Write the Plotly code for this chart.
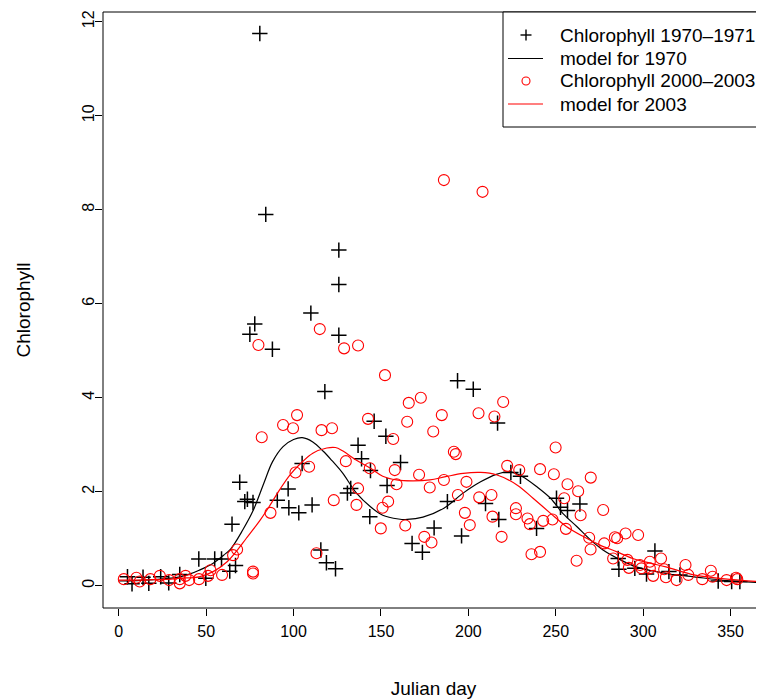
import plotly.graph_objects as go

# Observed chlorophyll, 1970-1971 (black crosses)
day_1970 = [5.0, 7.6, 13.9, 17.2, 24, 28.6, 34.9, 45.8, 49.8, 54.9, 58.8, 63.5, 64.8, 66.8, 69.2,
            72.1, 73.6, 75, 76.8, 77.8, 80.7, 84.1, 87.9, 90.7, 96.9, 97.3, 103, 104.9, 109.9,
            110.6, 115.6, 117.9, 118.8, 124, 125.9, 125.9, 125.9, 130.8, 132.7, 136.9, 138.9,
            143.6, 144, 146.1, 152.8, 153.5, 161.2, 167.8, 173.7, 180.4, 188, 193.8, 196.1,
            202.8, 209.8, 216.7, 217.4, 224.3, 229.8, 239, 250.4, 252.7, 256.7, 263.8, 285.7,
            286.1, 295.2, 301.9, 306.7, 314.7, 321, 342.9, 350.6, 355.3]
chl_1970 = [0.19, 0.04, 0.18, 0.05, 0.19, 0.06, 0.24, 0.57, 0.16, 0.57, 0.57, 0.31, 1.31, 0.43, 2.2,
            1.79, 1.84, 5.35, 1.77, 5.57, 11.75, 7.9, 5.03, 1.82, 2.06, 1.66, 1.55, 2.60, 5.80,
            1.72, 0.76, 4.13, 0.49, 0.36, 7.14, 6.41, 5.33, 1.97, 2.07, 2.99, 2.70,
            1.47, 2.45, 3.50, 3.18, 2.13, 2.62, 0.90, 0.71, 1.23, 1.79, 4.36, 1.06,
            4.18, 1.75, 3.46, 1.41, 2.41, 2.33, 1.22, 1.86, 1.67, 1.60, 1.74, 0.58,
            0.35, 0.37, 0.25, 0.74, 0.30, 0.23, 0.10, 0.09, 0.09]

# Observed chlorophyll, 2000-2003 (red circles)
day_2000 = [2.9, 10.1, 12, 18.1, 23.5, 28.8, 34.9, 34.9, 38.2, 40.3, 45.9, 51.1, 52.5, 59.1, 65.4,
            67.7, 76.8, 76.8, 79.9, 81.8, 86.8, 94, 99.7, 101.1, 102, 108.9, 113.1, 115, 116, 122,
            123, 128.9, 129.9, 136, 136.9, 136.9, 142.6, 143.6, 149.9, 150.9, 152.3, 154.1, 157,
            157.9, 158.9, 163.9, 165, 165.9, 171.8, 172.8, 174.8, 177.9, 178.9, 179.9, 184.8,
            186, 186, 191.7, 192.8, 194, 198, 198.9, 200.8, 205.8, 206.2, 208.1, 213.2, 213.8,
            214.9, 219, 219.9, 222.2, 227.2, 227.2, 229.1, 233.8, 235.2, 236.1, 241, 241, 242.8,
            248.1, 248.9, 249.9, 254.8, 255.8, 256.7, 261.9, 262.8, 264.2, 269.1, 269.9, 270,
            277.1, 277.7, 282.8, 283.8, 285.1, 289.9, 291, 291.8, 297.1, 298.1, 299, 303.8,
            303.8, 305.7, 310.2, 312, 313, 319.1, 324.2, 325.8, 333.8, 338.7, 339.7, 347.7,
            353.1, 353.8]
chl_2000 = [0.14, 0.17, 0.09, 0.14, 0.21, 0.12, 0.05, 0.14, 0.21, 0.12, 0.14, 0.21, 0.33, 0.23, 0.65,
            0.77, 0.30, 0.26, 5.12, 3.16, 1.55, 3.42, 3.35, 2.41, 3.63, 2.53, 0.69, 5.46, 3.31, 3.35,
            1.82, 5.05, 2.65, 1.72, 5.11, 2.07, 3.55, 2.50, 1.22, 1.66, 4.48, 1.79, 3.12,
            2.46, 2.16, 1.28, 3.49, 3.89, 2.36, 4.0, 1.04, 2.09, 0.92, 3.28, 3.63,
            8.63, 2.25, 2.85, 2.80, 1.93, 1.55, 2.21, 1.29, 3.67, 1.88, 8.38, 1.93, 1.47,
            3.60, 1.04, 3.91, 2.55, 1.65, 1.52, 2.46, 1.43, 1.31, 0.67, 2.48, 0.72, 1.38,
            1.41, 2.37, 2.94, 1.86, 1.21, 2.16, 0.53, 2.01, 1.50, 1.02, 0.77, 2.30,
            1.61, 0.90, 0.58, 1.03, 1.01, 1.11, 0.55, 0.38, 1.08, 0.44, 0.37, 0.51,
            0.37, 0.21, 0.58, 0.35, 0.18, 0.12, 0.44, 0.23, 0.14, 0.32, 0.19, 0.12,
            0.17, 0.14]

# Model curves
model_day_1970 = [0, 10, 20, 30, 35, 40, 46, 54, 60, 64, 71, 77, 83, 88, 94, 100, 105, 111, 117, 122,
                  128, 136, 144, 151, 160, 165, 174, 186, 197, 207, 216, 224, 231, 239, 247, 254,
                  262, 270, 277, 287, 296, 306, 315, 329, 348, 365]
model_chl_1970 = [0.10, 0.11, 0.13, 0.16, 0.19, 0.24, 0.33, 0.48, 0.65, 0.78, 1.19, 1.61, 2.18, 2.64,
                  2.96, 3.11, 3.15, 3.06, 2.86, 2.66, 2.40, 1.97, 1.68, 1.50, 1.42, 1.41, 1.46, 1.65,
                  1.97, 2.21, 2.37, 2.42, 2.32, 2.11, 1.86, 1.54, 1.26, 0.97, 0.76, 0.55, 0.40, 0.31,
                  0.25, 0.19, 0.11, 0.07]
model_day_2003 = [0, 10, 20, 30, 35, 46, 54, 62, 67, 73, 81, 86, 92, 98, 104, 111, 119, 124, 128, 136,
                  144, 151, 159, 168, 178, 187, 197, 207, 216, 228, 237, 247, 256, 266, 275, 285,
                  294, 304, 313, 329, 348, 365]
model_chl_2003 = [0.12, 0.12, 0.13, 0.14, 0.16, 0.19, 0.30, 0.51, 0.72, 1.01, 1.40, 1.68, 2.04, 2.36,
                  2.60, 2.82, 2.93, 2.94, 2.87, 2.67, 2.50, 2.33, 2.25, 2.23, 2.25, 2.32, 2.39, 2.41,
                  2.36, 2.14, 1.86, 1.54, 1.26, 1.04, 0.87, 0.72, 0.58, 0.48, 0.40, 0.23, 0.14, 0.09]

x_ticks = [0, 50, 100, 150, 200, 250, 300, 350]
y_ticks = [0, 2, 4, 6, 8, 10, 12]

legend_labels = ["Chlorophyll 1970–1971", "model for 1970", "Chlorophyll 2000–2003", "model for 2003"]
legend_kinds = ["cross", "line", "circle", "line"]
legend_colors = ["black", "black", "red", "red"]

# ---- layout geometry (pixels) ----
W, H = 764, 700
ML, MR, MT, MB = 95, 8, 4, 100
PW, PH = W - ML - MR, H - MT - MB
OFF = 8  # page body offset


def px_x(px):  # page x pixel -> paper x
    return (px - OFF - ML) / PW


def px_y(py):  # page y pixel -> paper y
    return 1 - (py - OFF - MT) / PH


fig = go.Figure()
fig.add_trace(go.Scatter(x=day_1970, y=chl_1970, mode="markers", name=legend_labels[0],
                         marker=dict(symbol="cross-thin", size=11, color="black",
                                     line=dict(color="black", width=1.5))))
fig.add_trace(go.Scatter(x=model_day_1970, y=model_chl_1970, mode="lines", name=legend_labels[1],
                         line=dict(color="black", width=1.2, shape="spline")))
fig.add_trace(go.Scatter(x=day_2000, y=chl_2000, mode="markers", name=legend_labels[2],
                         marker=dict(symbol="circle-open", size=11, color="red",
                                     line=dict(color="red", width=1.1))))
fig.add_trace(go.Scatter(x=model_day_2003, y=model_chl_2003, mode="lines", name=legend_labels[3],
                         line=dict(color="red", width=1.2, shape="spline")))

shapes = [dict(type="rect", xref="paper", yref="paper", x0=0, x1=1.05, y0=0, y1=1,
               line=dict(color="black", width=1), layer="above")]
annotations = []

# Manual legend (R style box)
shapes.append(dict(type="rect", xref="paper", yref="paper", x0=px_x(503), x1=1.05,
                   y0=px_y(127), y1=1, fillcolor="white", line=dict(color="black", width=1),
                   layer="above"))
row_y = [35, 58.5, 81, 104]
sx = 526
for lab, kind, col, ry in zip(legend_labels, legend_kinds, legend_colors, row_y):
    if kind == "line":
        shapes.append(dict(type="line", xref="paper", yref="paper", x0=px_x(508), x1=px_x(543),
                           y0=px_y(ry), y1=px_y(ry), line=dict(color=col, width=1.2), layer="above"))
    elif kind == "cross":
        shapes.append(dict(type="line", xref="paper", yref="paper", x0=px_x(sx - 5.5), x1=px_x(sx + 5.5),
                           y0=px_y(ry), y1=px_y(ry), line=dict(color=col, width=1.4), layer="above"))
        shapes.append(dict(type="line", xref="paper", yref="paper", x0=px_x(sx), x1=px_x(sx),
                           y0=px_y(ry - 5.5), y1=px_y(ry + 5.5), line=dict(color=col, width=1.4),
                           layer="above"))
    else:
        shapes.append(dict(type="circle", xref="paper", yref="paper", x0=px_x(sx - 4), x1=px_x(sx + 4),
                           y0=px_y(ry + 4), y1=px_y(ry - 4), line=dict(color=col, width=1.1),
                           layer="above"))
    annotations.append(dict(xref="paper", yref="paper", x=px_x(558), y=px_y(ry), text=lab,
                            showarrow=False, xanchor="left", yanchor="middle",
                            font=dict(size=19, color="black")))

fig.update_layout(
    width=W, height=H,
    margin=dict(l=ML, r=MR, t=MT, b=MB),
    plot_bgcolor="white", paper_bgcolor="white",
    font=dict(family="Liberation Sans, Arial, sans-serif", size=16, color="black"),
    showlegend=False,
    xaxis=dict(range=[-9.0, 369.1], tickvals=x_ticks, ticks="outside", ticklen=7,
               tickcolor="black", showgrid=False, zeroline=False, showline=False,
               automargin=False, ticklabelstandoff=2,
               title=dict(text="Julian day", standoff=42)),
    yaxis=dict(range=[-0.474, 12.206], tickvals=y_ticks, ticks="outside", ticklen=7,
               tickcolor="black", tickangle=-90, showgrid=False, zeroline=False, showline=False,
               automargin=False, ticklabelstandoff=-5,
               title=dict(text="Chlorophyll", standoff=43)),
    shapes=shapes,
    annotations=annotations,
)

fig.write_html("out.html")
